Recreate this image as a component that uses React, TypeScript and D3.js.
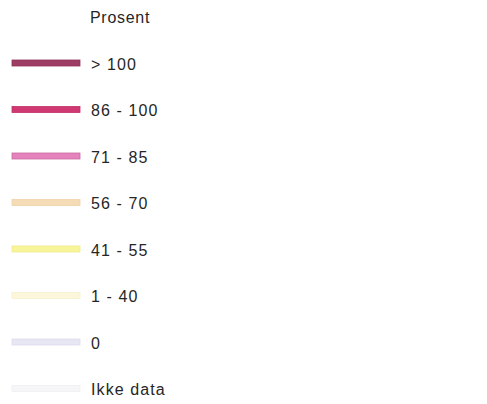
import React from "react";
import * as d3 from "d3";

const legendTitle = "Prosent";
const categories = ["> 100", "86 - 100", "71 - 85", "56 - 70", "41 - 55", "1 - 40", "0", "Ikke data"];
const swatchColors = ["#9e3d63", "#d03872", "#e482bb", "#f6dcb6", "#f8f498", "#fcf7da", "#e7e7f3", "#f6f6f9"];
const swatchStrokes = ["#8e3458", "#c02e66", "#c96aa2", "#f0d0a8", "#f1ec8c", "#f6f0cc", "#dcdcec", "#efeff3"];

export default function App() {
  const W = 487, H = 404;
  const y = d3.scalePoint<string>().domain(categories).range([63, 388.5]);
  return (
    <svg width={W} height={H} style={{ position: "absolute", left: 0, top: 0, background: "#fff" }}
      fontFamily="'Liberation Sans', Arial, sans-serif">
      <rect width={W} height={H} fill="#fff" />
      <text x={90} y={23} fontSize={16} fill="#262626" letterSpacing={0.7}>{legendTitle}</text>
      {categories.map((c, i) => {
        const cy = y(c)!;
        return (
          <g key={c}>
            <rect x={12} y={cy - 3} width={68} height={6} fill={swatchColors[i]} stroke={swatchStrokes[i]} strokeWidth={0.8} />
            <text x={91} y={cy + 6.5} fontSize={16} fill="#262626" letterSpacing={1.1}>{c}</text>
          </g>
        );
      })}
    </svg>
  );
}
